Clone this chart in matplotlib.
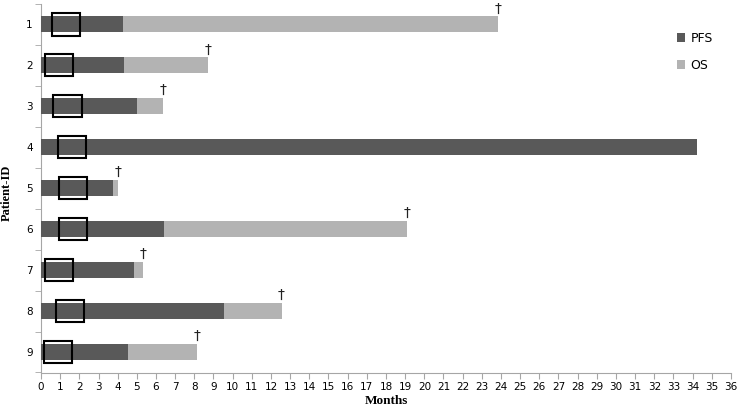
import matplotlib.pyplot as plt
from matplotlib.patches import Rectangle

# Data (months)
patients = ['1', '2', '3', '4', '5', '6', '7', '8', '9']
pfs = [4.26, 4.33, 5.01, 34.22, 3.77, 6.42, 4.85, 9.56, 4.56]
os_ = [23.84, 8.71, 6.38, 34.22, 4.03, 19.09, 5.30, 12.55, 8.15]
dead = [True, True, True, False, True, True, True, True, True]
box_start = [0.55, 0.21, 0.64, 0.87, 0.94, 0.96, 0.21, 0.78, 0.14]
box_end = [2.04, 1.68, 2.14, 2.35, 2.38, 2.42, 1.68, 2.24, 1.63]

dark = '#595959'
light = '#b3b3b3'
axis_col = '#a6a6a6'

fig = plt.figure(figsize=(7.38, 4.07), dpi=100)
ax = fig.add_axes([41 / 738, (407 - 372.5) / 407, 690 / 738, 368.5 / 407])

y = list(range(1, len(patients) + 1))
h = 0.39
ax.barh(y, os_, height=h, color=light, label='OS', zorder=2)
ax.barh(y, pfs, height=h, color=dark, label='PFS', zorder=3)

# open boxes near the start of each bar
for yi, b0, b1 in zip(y, box_start, box_end):
    ax.add_patch(Rectangle((b0, yi - 0.27), b1 - b0, 0.54, fill=False,
                           edgecolor='black', linewidth=1.5, zorder=4))

# daggers at the end of OS
for yi, o, d in zip(y, os_, dead):
    if d:
        ax.text(o, yi - 0.22, '\u2020', ha='center', va='bottom', fontsize=10,
                color='#222222')

ax.set_xlim(0, 36)
ax.set_ylim(9.5, 0.5)
ax.set_xticks(range(0, 37))
ax.set_xticklabels([str(i) for i in range(0, 37)], fontsize=7.5)
ax.set_yticks(y)
ax.set_yticklabels(patients, fontsize=7.5)
ax.set_yticks([i + 0.5 for i in range(0, 10)], minor=True)
ax.tick_params(axis='y', which='major', length=0, pad=6)
ax.tick_params(axis='y', which='minor', length=4, color=axis_col, direction='out')
ax.tick_params(axis='x', length=4, color=axis_col, direction='out', pad=3)

for s in ['top', 'right']:
    ax.spines[s].set_visible(False)
for s in ['left', 'bottom']:
    ax.spines[s].set_color(axis_col)

ax.set_xlabel('Months', family='Liberation Serif', fontweight='bold',
              fontsize=9.5, labelpad=2)
ax.set_ylabel('Patient-ID', family='Liberation Serif', fontweight='bold',
              fontsize=9)
ax.yaxis.set_label_coords(-0.041, 0.487)

handles, labels = ax.get_legend_handles_labels()
ax.legend(handles[::-1], labels[::-1], loc='upper right',
          bbox_to_anchor=(0.99, 0.955), frameon=False, fontsize=9,
          handlelength=0.7, handleheight=0.7, labelspacing=1.1,
          handletextpad=0.4)

fig.savefig('out.png', dpi=100)
